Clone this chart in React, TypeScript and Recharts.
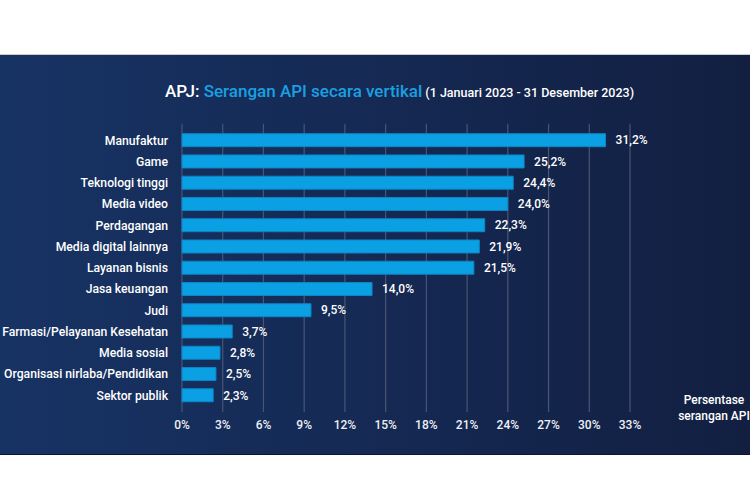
import React from "react";
import {
  BarChart,
  Bar,
  XAxis,
  YAxis,
  CartesianGrid,
  LabelList,
  Customized,
} from "recharts";

const categories = [
  "Manufaktur",
  "Game",
  "Teknologi tinggi",
  "Media video",
  "Perdagangan",
  "Media digital lainnya",
  "Layanan bisnis",
  "Jasa keuangan",
  "Judi",
  "Farmasi/Pelayanan Kesehatan",
  "Media sosial",
  "Organisasi nirlaba/Pendidikan",
  "Sektor publik",
];

const values = [31.2, 25.2, 24.4, 24.0, 22.3, 21.9, 21.5, 14.0, 9.5, 3.7, 2.8, 2.5, 2.3];

const xTicks = [0, 3, 6, 9, 12, 15, 18, 21, 24, 27, 30, 33];

const data = categories.map((name, i) => ({ name, value: values[i] }));

const FONT = "Roboto, 'Noto Sans', sans-serif";

const fmtVal = (v: number) => v.toFixed(1).replace(".", ",") + "%";

const CatTick = (props: any) => {
  const { x, y, payload } = props;
  return (
    <text
      x={x}
      y={y}
      dy="0.355em"
      textAnchor="end"
      fill="#ffffff"
      fontSize={12.2}
      fontWeight={500}
      fontFamily={FONT}
    >
      {payload.value}
    </text>
  );
};

const AxisTitle = () => (
  <g>
    <text
      x={714}
      y={404}
      textAnchor="middle"
      fill="#ffffff"
      fontSize={12}
      fontWeight={500}
      fontFamily={FONT}
    >
      Persentase
    </text>
    <text
      x={714}
      y={420}
      textAnchor="middle"
      fill="#ffffff"
      fontSize={12}
      fontWeight={500}
      fontFamily={FONT}
    >
      serangan API
    </text>
  </g>
);

export default function App() {
  return (
    <div
      style={{
        position: "absolute",
        left: 0,
        top: 0,
        width: 750,
        height: 500,
        background: "#ffffff",
        overflow: "hidden",
        fontFamily: FONT,
      }}
    >
      <div
        style={{
          position: "absolute",
          left: 0,
          top: 54,
          width: 750,
          height: 401,
          background: "linear-gradient(90deg, #173364 0%, #152a55 45%, #121f41 100%)",
          borderTop: "1px solid #c9ccd4",
          borderBottom: "1px solid #0b1634",
          boxSizing: "border-box",
        }}
      />
      <div
        style={{
          position: "absolute",
          left: 165,
          top: 81,
          whiteSpace: "nowrap",
          fontFamily: FONT,
          fontWeight: 500,
          color: "#ffffff",
          lineHeight: "20px",
        }}
      >
        <span style={{ fontSize: 17 }}>APJ: </span>
        <span style={{ fontSize: 17, color: "#1aa0e2" }}>Serangan API secara vertikal</span>
        <span style={{ fontSize: 12.5 }}> (1 Januari 2023 - 31 Desember 2023)</span>
      </div>
      <div style={{ position: "absolute", left: 0, top: 0 }}>
        <BarChart
          width={750}
          height={500}
          data={data}
          layout="vertical"
          margin={{ top: 123.7, right: 120, bottom: 58, left: 0 }}
        >
          <CartesianGrid horizontal={false} stroke="#4a5572" strokeWidth={1.2} />
          <XAxis
            type="number"
            domain={[0, 33]}
            ticks={xTicks}
            tickFormatter={(v: number) => `${v}%`}
            axisLine={false}
            tickLine={false}
            tickSize={0}
            tickMargin={8}
            height={30}
            interval={0}
            tick={{ fill: "#eef1f6", fontSize: 12, fontWeight: 500, fontFamily: FONT }}
          />
          <YAxis
            type="category"
            dataKey="name"
            width={182}
            axisLine={false}
            tickLine={false}
            tickSize={0}
            tickMargin={14}
            interval={0}
            padding={{ top: 6, bottom: 6 }}
            tick={<CatTick />}
          />
          <Bar
            dataKey="value"
            fill="#0ba0e3"
            stroke="#0a86c6"
            strokeWidth={1}
            barSize={13}
            isAnimationActive={false}
          >
            <LabelList
              dataKey="value"
              position="right"
              offset={10}
              formatter={(v: number) => fmtVal(v)}
              fill="#ffffff"
              fontSize={12}
              fontWeight={500}
              fontFamily={FONT}
            />
          </Bar>
          <Customized component={AxisTitle} />
        </BarChart>
      </div>
    </div>
  );
}
